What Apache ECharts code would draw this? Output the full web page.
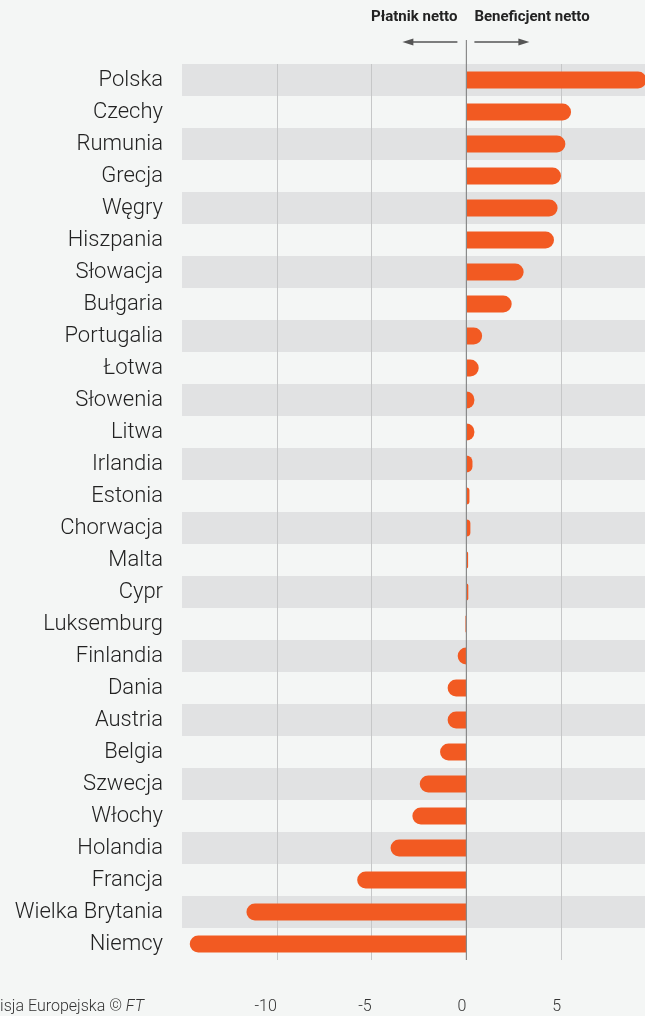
<!DOCTYPE html>
<html>
<head>
<meta charset="utf-8">
<script src="https://cdn.jsdelivr.net/npm/echarts@6/dist/echarts.min.js"></script>
<style>
html,body{margin:0;padding:0;background:#f4f6f5;overflow:hidden;width:645px;height:1016px;}
#c{width:656px;height:1016px;}
</style>
</head>
<body>
<div id="c"></div>
<script>
const categories = ['Polska','Czechy','Rumunia','Grecja','Węgry','Hiszpania','Słowacja','Bułgaria','Portugalia','Łotwa','Słowenia','Litwa','Irlandia','Estonia','Chorwacja','Malta','Cypr','Luksemburg','Finlandia','Dania','Austria','Belgia','Szwecja','Włochy','Holandia','Francja','Wielka Brytania','Niemcy'];
const values = [9.5,5.52,5.22,4.99,4.81,4.62,3.02,2.39,0.83,0.65,0.42,0.42,0.32,0.16,0.21,0.09,0.1,-0.05,-0.46,-0.99,-0.99,-1.39,-2.46,-2.85,-4.0,-5.76,-11.6,-14.59];
const headerLeft = 'Płatnik netto';
const headerRight = 'Beneficjent netto';
const sourcePrefix = 'Źródło: Komisja Europejska © ';
const sourceItalic = 'FT';

const FONT = 'Roboto, "Liberation Sans", sans-serif';
const chart = echarts.init(document.getElementById('c'), null, {renderer:'canvas'});
const option = {
  backgroundColor: '#f4f6f5',
  animation: false,
  grid: {left: 182, top: 64, bottom: 56, right: 0, containLabel: false},
  xAxis: {
    type: 'value', min: -15, max: 10, interval: 5,
    axisLine: {show: false},
    axisTick: {show: false},
    splitLine: {show: true, showMinLine: false, showMaxLine: false, lineStyle: {color: '#c6c7c8', width: 1}},
    axisLabel: {
      showMinLabel: false, showMaxLabel: false,
      margin: 39, color: '#333', fontFamily: FONT, fontSize: 16, fontWeight: 300,
      align: 'right'
    }
  },
  yAxis: {
    type: 'category', data: categories, inverse: true,
    axisLine: {show: false}, axisTick: {show: false},
    splitArea: {show: true, areaStyle: {color: ['#e1e2e3', 'rgba(0,0,0,0)']}},
    axisLabel: {margin: 19, color: '#222', fontFamily: FONT, fontSize: 22, fontWeight: 300}
  },
  series: [{
    type: 'bar',
    barWidth: 17,
    data: values.map(v => ({
      value: v,
      itemStyle: {color: '#f25a22', borderRadius: v >= 0 ? [0, 9, 9, 0] : [9, 0, 0, 9]}
    })),
    z: 3
  }]
};
chart.setOption(option);

const x0 = chart.convertToPixel({xAxisIndex: 0}, 0);
const yBottom = 960;
const arrowY = 42;
chart.setOption({
  graphic: [
    {type: 'line', z: 10, shape: {x1: x0, y1: 40, x2: x0, y2: yBottom}, style: {stroke: '#8a8a8a', lineWidth: 1.2}},
    {type: 'line', shape: {x1: x0 - 9, y1: arrowY, x2: x0 - 58, y2: arrowY}, style: {stroke: '#555', lineWidth: 1.5}},
    {type: 'polygon', shape: {points: [[x0 - 64, arrowY], [x0 - 53, arrowY - 3.5], [x0 - 53, arrowY + 3.5]]}, style: {fill: '#555'}},
    {type: 'line', shape: {x1: x0 + 8, y1: arrowY, x2: x0 + 57, y2: arrowY}, style: {stroke: '#555', lineWidth: 1.5}},
    {type: 'polygon', shape: {points: [[x0 + 63, arrowY], [x0 + 52, arrowY - 3.5], [x0 + 52, arrowY + 3.5]]}, style: {fill: '#555'}},
    {type: 'text', x: x0 - 9, y: 17, style: {text: headerLeft, align: 'right', verticalAlign: 'middle', font: 'bold 15px ' + FONT, fill: '#222'}},
    {type: 'text', x: x0 + 8, y: 17, style: {text: headerRight, align: 'left', verticalAlign: 'middle', font: 'bold 15px ' + FONT, fill: '#222'}},
    {type: 'text', x: 144, y: 1007, style: {
      text: '{a|' + sourcePrefix + '}{b|' + sourceItalic + '}', align: 'right', verticalAlign: 'middle',
      rich: {
        a: {fontFamily: FONT, fontSize: 16, fontWeight: 300, fill: '#333', color: '#333'},
        b: {fontFamily: FONT, fontSize: 16, fontWeight: 300, fontStyle: 'italic', fill: '#333', color: '#333'}
      }
    }}
  ]
});
</script>
</body>
</html>
